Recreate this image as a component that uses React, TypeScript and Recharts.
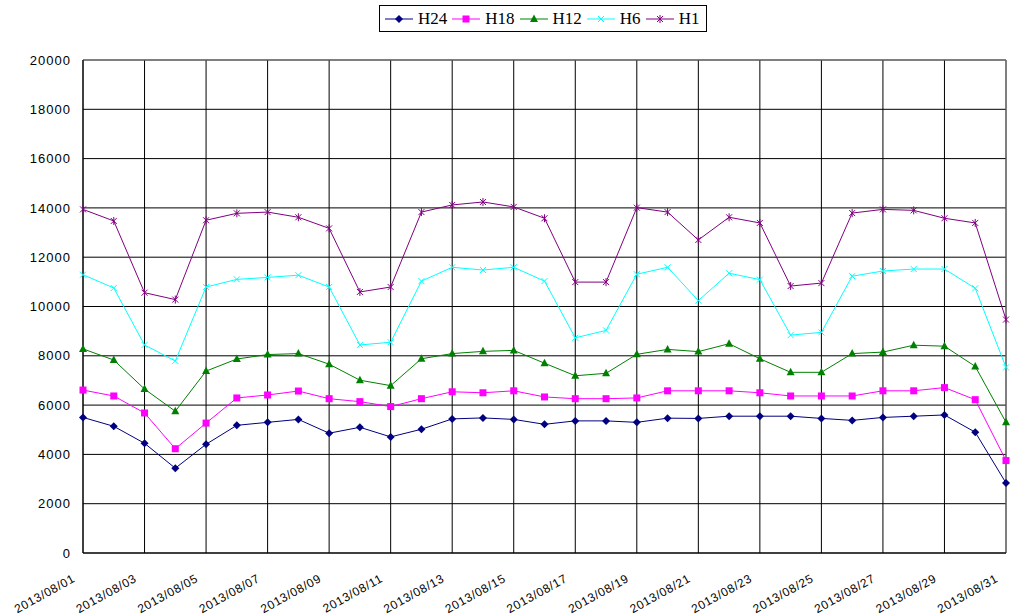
import React from 'react';
import { LineChart, Line, XAxis, YAxis, CartesianGrid, Legend, ReferenceLine } from 'recharts';

const days = [
  '2013/08/01', '2013/08/02', '2013/08/03', '2013/08/04', '2013/08/05', '2013/08/06', '2013/08/07', '2013/08/08',
  '2013/08/09', '2013/08/10', '2013/08/11', '2013/08/12', '2013/08/13', '2013/08/14', '2013/08/15', '2013/08/16',
  '2013/08/17', '2013/08/18', '2013/08/19', '2013/08/20', '2013/08/21', '2013/08/22', '2013/08/23', '2013/08/24',
  '2013/08/25', '2013/08/26', '2013/08/27', '2013/08/28', '2013/08/29', '2013/08/30', '2013/08/31',
];

const h24 = [5500, 5140, 4450, 3440, 4410, 5180, 5300, 5420, 4860, 5100, 4710, 5020, 5440, 5480, 5420, 5220,
  5360, 5360, 5300, 5470, 5460, 5550, 5550, 5550, 5460, 5380, 5500, 5550, 5600, 4900, 2840];
const h18 = [6610, 6370, 5680, 4230, 5270, 6290, 6410, 6570, 6260, 6140, 5940, 6260, 6540, 6500, 6580, 6330,
  6260, 6260, 6290, 6580, 6580, 6580, 6500, 6370, 6370, 6370, 6580, 6580, 6710, 6220, 3750];
const h12 = [8280, 7830, 6650, 5750, 7380, 7870, 8050, 8090, 7660, 7010, 6790, 7880, 8090, 8180, 8220, 7700,
  7190, 7290, 8060, 8260, 8170, 8490, 7880, 7330, 7330, 8090, 8150, 8430, 8390, 7570, 5300];
const h6 = [11290, 10750, 8440, 7790, 10790, 11100, 11180, 11270, 10790, 8440, 8550, 11030, 11590, 11480, 11590, 11030,
  8730, 9030, 11310, 11590, 10240, 11350, 11090, 8840, 8950, 11230, 11440, 11520, 11520, 10740, 7530];
const h1 = [13940, 13470, 10560, 10280, 13500, 13780, 13830, 13620, 13170, 10590, 10790, 13830, 14120, 14240, 14040, 13580,
  10990, 10990, 14010, 13830, 12700, 13620, 13390, 10830, 10950, 13790, 13940, 13900, 13580, 13390, 9470];

const xTicks = [1, 3, 5, 7, 9, 11, 13, 15, 17, 19, 21, 23, 25, 27, 29, 31];
const yTicks = [0, 2000, 4000, 6000, 8000, 10000, 12000, 14000, 16000, 18000, 20000];

const data = days.map((d, i) => ({
  day: i + 1,
  date: d,
  H24: h24[i],
  H18: h18[i],
  H12: h12[i],
  H6: h6[i],
  H1: h1[i],
}));

const series = [
  { key: 'H24', color: '#000080', shape: 'diamond' },
  { key: 'H18', color: '#ff00ff', shape: 'square' },
  { key: 'H12', color: '#008000', shape: 'triangle' },
  { key: 'H6', color: '#00ffff', shape: 'cross' },
  { key: 'H1', color: '#800080', shape: 'star' },
];

const tickFont = { fontFamily: '"Liberation Sans", Arial, sans-serif', fontSize: 13, letterSpacing: 1, fill: '#000' };

function Marker({ cx, cy, shape, color }: { cx: number; cy: number; shape: string; color: string }) {
  if (shape === 'diamond') {
    return <polygon points={`${cx},${cy - 4} ${cx + 4},${cy} ${cx},${cy + 4} ${cx - 4},${cy}`} fill={color} />;
  }
  if (shape === 'square') {
    return <rect x={cx - 3.5} y={cy - 3.5} width={7} height={7} fill={color} />;
  }
  if (shape === 'triangle') {
    return <polygon points={`${cx},${cy - 4.5} ${cx + 4},${cy + 3} ${cx - 4},${cy + 3}`} fill={color} />;
  }
  if (shape === 'cross') {
    return (
      <g stroke={color} strokeWidth={1}>
        <line x1={cx - 3} y1={cy - 3} x2={cx + 3} y2={cy + 3} />
        <line x1={cx - 3} y1={cy + 3} x2={cx + 3} y2={cy - 3} />
      </g>
    );
  }
  return (
    <g stroke={color} strokeWidth={1}>
      <line x1={cx - 3} y1={cy - 3} x2={cx + 3} y2={cy + 3} />
      <line x1={cx - 3} y1={cy + 3} x2={cx + 3} y2={cy - 3} />
      <line x1={cx} y1={cy - 4} x2={cx} y2={cy + 4} />
    </g>
  );
}

// rotated date labels, right end just below-left of the grid line
const XTick = (props: any) => {
  const { x, y, payload } = props;
  const px = x - 7;
  const py = y + 20;
  return (
    <g transform={`translate(${px},${py}) rotate(-29)`}>
      <text x={0} y={0} textAnchor="end" {...tickFont} fontSize={12} letterSpacing={0.7}>
        {days[payload.value - 1]}
      </text>
    </g>
  );
};

const LegendBox = () => (
  <div
    style={{
      display: 'inline-flex',
      alignItems: 'center',
      border: '1px solid #000',
      height: 25,
      padding: '0 2px 0 5px',
      fontFamily: '"Liberation Serif", "Times New Roman", serif',
      fontSize: 17,
      background: '#fff',
      whiteSpace: 'nowrap',
    }}
  >
    {series.map((s) => (
      <div key={s.key} style={{ display: 'flex', alignItems: 'center', marginRight: 5 }}>
        <svg width={28} height={12}>
          <line x1={0} y1={6} x2={28} y2={6} stroke={s.color} strokeWidth={1} />
          <Marker cx={14} cy={6} shape={s.shape} color={s.color} />
        </svg>
        <span style={{ marginLeft: 5 }}>{s.key}</span>
      </div>
    ))}
  </div>
);

export default function App() {
  return (
    <div style={{ position: 'absolute', left: 0, top: 0, background: '#fff' }}>
      <LineChart width={1017} height={616} data={data} margin={{ top: 60, right: 11, bottom: 8, left: 0 }}>
        <CartesianGrid stroke="#000" strokeWidth={1} />
        <ReferenceLine y={20000} stroke="#808080" />
        <ReferenceLine x={31} stroke="#808080" />
        <XAxis
          dataKey="day"
          type="number"
          domain={[1, 31]}
          ticks={xTicks}
          interval={0}
          tick={<XTick />}
          tickLine={false}
          axisLine={{ stroke: '#000' }}
          height={55}
        />
        <YAxis
          domain={[0, 20000]}
          ticks={yTicks}
          interval={0}
          width={83}
          tickLine={false}
          tickMargin={6}
          axisLine={{ stroke: '#000' }}
          tick={tickFont}
        />
        <Legend
          layout="horizontal"
          verticalAlign="middle"
          align="center"
          content={() => <LegendBox />}
          wrapperStyle={{ top: 5, left: 379, width: 340 }}
        />
        {series.map((s) => (
          <Line
            key={s.key}
            dataKey={s.key}
            stroke={s.color}
            strokeWidth={1}
            isAnimationActive={false}
            dot={(p: any) => <Marker key={`${s.key}-${p.index}`} cx={p.cx} cy={p.cy} shape={s.shape} color={s.color} />}
            activeDot={false}
          />
        ))}
      </LineChart>
    </div>
  );
}
